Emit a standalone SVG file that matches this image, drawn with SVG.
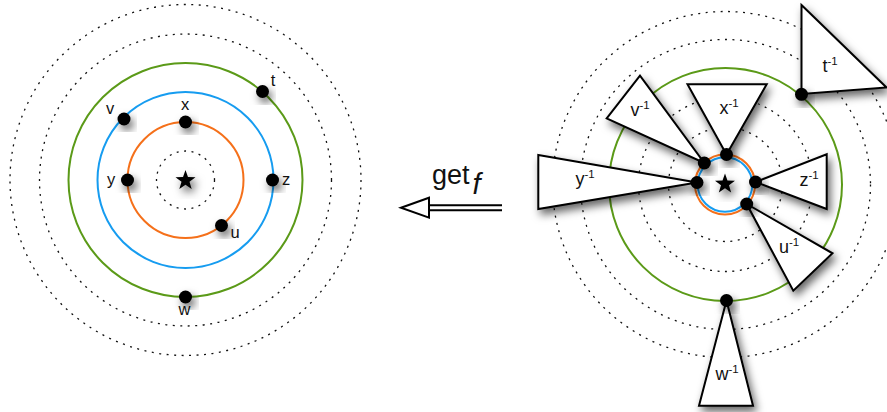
<svg xmlns="http://www.w3.org/2000/svg" xmlns:xlink="http://www.w3.org/1999/xlink" width="887" height="412" viewBox="0 0 887 412">
<defs>
  <filter id="sh" x="-50%" y="-50%" width="200%" height="200%">
    <feDropShadow dx="3" dy="5" stdDeviation="4" flood-color="#000" flood-opacity="0.6"/>
  </filter>
  <path id="star" d="M0,-10.5 L2.47,-3.4 L9.99,-3.25 L3.99,1.3 L6.17,8.5 L0,4.2 L-6.17,8.5 L-3.99,1.3 L-9.99,-3.25 L-2.47,-3.4Z"/>
  <style>
    .dot { fill:none; stroke:#111; stroke-width:1.3; stroke-dasharray:2 5.5; }
    .or { fill:none; stroke:#F5701A; stroke-width:2; }
    .bl { fill:none; stroke:#169CF0; stroke-width:2; }
    .gr { fill:none; stroke:#5B9A18; stroke-width:2; }
    .pt { fill:#000; filter:url(#sh); }
    .tri { fill:#fff; stroke:#000; stroke-width:2; stroke-linejoin:miter; filter:url(#sh); }
    .lbl { font-family:"Liberation Sans", Arial, sans-serif; font-size:16.5px; fill:#111; text-anchor:middle; }
    .rl { font-size:18px; }
    .sup { font-size:11.5px; }
    .st { fill:#000; filter:url(#sh); }
  </style>
</defs>

<!-- Left diagram -->
<g id="left-circles">
  <circle class="dot" cx="185.5" cy="180" r="29"/>
  <circle class="or" cx="185.5" cy="180" r="58"/>
  <circle class="bl" cx="185.5" cy="180" r="88"/>
  <circle class="gr" cx="185.5" cy="180" r="117"/>
  <circle class="dot" cx="185.5" cy="180" r="146"/>
  <circle class="dot" cx="185.5" cy="180" r="175.5"/>
</g>
<g id="left-root"><use xlink:href="#star" href="#star" class="st" x="185.5" y="180.5"/></g>
<g id="L-t"><circle class="pt" cx="262.5" cy="91.5" r="6.5"/><text class="lbl" x="273" y="86">t</text></g>
<g id="L-v"><circle class="pt" cx="124" cy="119" r="6.5"/><text class="lbl" x="110" y="114">v</text></g>
<g id="L-x"><circle class="pt" cx="185.5" cy="122" r="6.5"/><text class="lbl" x="185" y="109.5">x</text></g>
<g id="L-y"><circle class="pt" cx="127.5" cy="180" r="6.5"/><text class="lbl" x="111" y="184.5">y</text></g>
<g id="L-z"><circle class="pt" cx="272.5" cy="180" r="6.5"/><text class="lbl" x="286" y="184.5">z</text></g>
<g id="L-u"><circle class="pt" cx="221.5" cy="225.5" r="6.5"/><text class="lbl" x="235" y="238">u</text></g>
<g id="L-w"><circle class="pt" cx="185.5" cy="297" r="6.5"/><text class="lbl" x="184.5" y="315">w</text></g>

<!-- Right diagram -->
<g id="right-circles">
  <circle class="dot" cx="725.5" cy="184.5" r="57"/>
  <circle class="dot" cx="725.5" cy="184.5" r="87"/>
  <circle class="gr" cx="725.5" cy="184.5" r="116.5"/>
  <circle class="dot" cx="725.5" cy="184.5" r="145"/>
  <circle class="dot" cx="725.5" cy="184.5" r="173"/>
  <circle class="or" cx="725" cy="184.5" r="30"/>
  <circle class="bl" cx="725" cy="184.5" r="27.3"/>
</g>
<g id="right-root"><use xlink:href="#star" href="#star" class="st" x="725" y="184"/></g>

<g id="R-t"><polygon class="tri" points="801.5,5 886.5,87.5 801.5,94"/><circle class="pt" cx="801.5" cy="94.3" r="6.5"/><text class="lbl rl" x="830" y="72">t<tspan class="sup" dy="-7">-1</tspan></text></g>
<g id="R-x"><polygon class="tri" points="687.5,84.3 766.7,84.3 726.5,154.5"/><circle class="pt" cx="726.5" cy="154.5" r="6.5"/><text class="lbl rl" x="729" y="114">x<tspan class="sup" dy="-7">-1</tspan></text></g>
<g id="R-v"><polygon class="tri" points="640,75.7 606.7,118.3 704.3,163"/><circle class="pt" cx="704.3" cy="163" r="6.5"/><text class="lbl rl" x="640" y="116">v<tspan class="sup" dy="-7">-1</tspan></text></g>
<g id="R-y"><polygon class="tri" points="538.3,155 697,182.5 538.3,209"/><circle class="pt" cx="697" cy="182.5" r="6.5"/><text class="lbl rl" x="585" y="185">y<tspan class="sup" dy="-7">-1</tspan></text></g>
<g id="R-z"><polygon class="tri" points="826.7,154.3 826.7,209 755.5,182"/><circle class="pt" cx="755.5" cy="182" r="6.5"/><text class="lbl rl" x="809" y="186">z<tspan class="sup" dy="-7">-1</tspan></text></g>
<g id="R-u"><polygon class="tri" points="746.7,204 832.5,253.3 793.3,290.7"/><circle class="pt" cx="746.7" cy="204" r="6.5"/><text class="lbl rl" x="789" y="253">u<tspan class="sup" dy="-7">-1</tspan></text></g>
<g id="R-w"><polygon class="tri" points="726.5,300.5 753,405.7 699,405.7"/><circle class="pt" cx="726.5" cy="300.5" r="6.5"/><text class="lbl rl" x="727" y="380">w<tspan class="sup" dy="-7">-1</tspan></text></g>

<!-- Connector -->
<g id="connectors">
  <line x1="429" y1="205.2" x2="502" y2="205.2" stroke="#000" stroke-width="2"/>
  <line x1="429" y1="210.2" x2="502" y2="210.2" stroke="#000" stroke-width="2"/>
  <polygon points="401,207.7 429,197.7 429,217.7" fill="#fff" stroke="#000" stroke-width="2" stroke-linejoin="miter"/>
  <text x="432" y="184" font-family="'Liberation Sans', Arial, sans-serif" font-size="27" fill="#111">get<tspan font-style="italic" font-size="29" dx="3" dy="10">f</tspan></text>
</g>
</svg>
